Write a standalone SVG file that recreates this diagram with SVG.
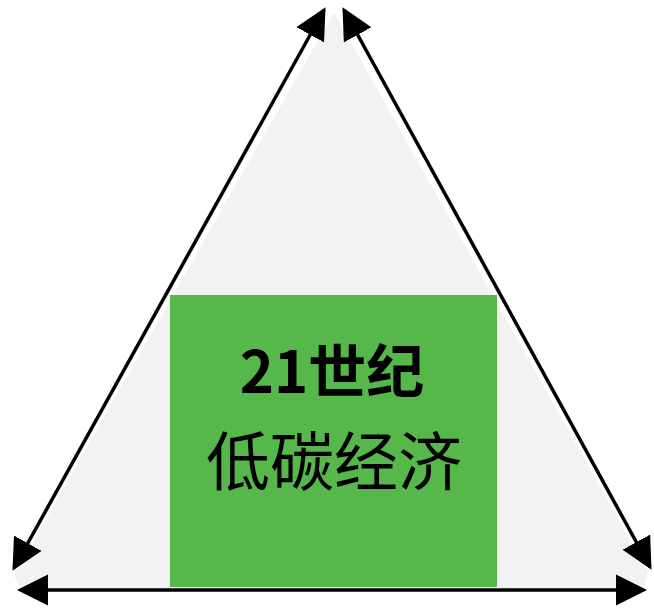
<svg xmlns="http://www.w3.org/2000/svg" width="654" height="608" viewBox="0 0 654 608">
<style>
.edge{stroke:#000;stroke-width:3.5;fill:none}
.t{font-family:"Noto Sans CJK SC","Liberation Sans",sans-serif;fill:#000;text-anchor:middle}
</style>
<defs>
<marker id="ah" viewBox="0 0 10 10" refX="9" refY="5" markerWidth="9" markerHeight="9" markerUnits="userSpaceOnUse" orient="auto-start-reverse">
<path d="M0,0 L10,5 L0,10 z" fill="#000"/>
</marker>
<marker id="ahL" viewBox="0 0 10 10" refX="9" refY="5" markerWidth="9" markerHeight="9" orient="auto-start-reverse">
<path d="M0,0 L10,5 L0,10 z" fill="#000"/>
</marker>
</defs>
<rect width="654" height="608" fill="#fff"/>
<polygon points="334,12 14,575 22,592 643,592 648,572" fill="#f2f2f5"/>
<g id="center">
<rect x="170" y="295" width="327" height="292" fill="#56b74a"/>
<text class="t" x="332" y="393" font-size="58" font-weight="bold">21世纪</text>
<text class="t" x="334" y="485" font-size="64">低碳经济</text>
</g>
<g id="connectors">
<line class="edge" x1="14" y1="568" x2="324" y2="10" marker-start="url(#ahL)" marker-end="url(#ahL)"/>
<line class="edge" x1="344" y1="10" x2="650" y2="567" marker-start="url(#ahL)" marker-end="url(#ahL)"/>
<line class="edge" x1="20" y1="590" x2="644" y2="590" marker-start="url(#ahL)" marker-end="url(#ahL)"/>
</g>
</svg>
